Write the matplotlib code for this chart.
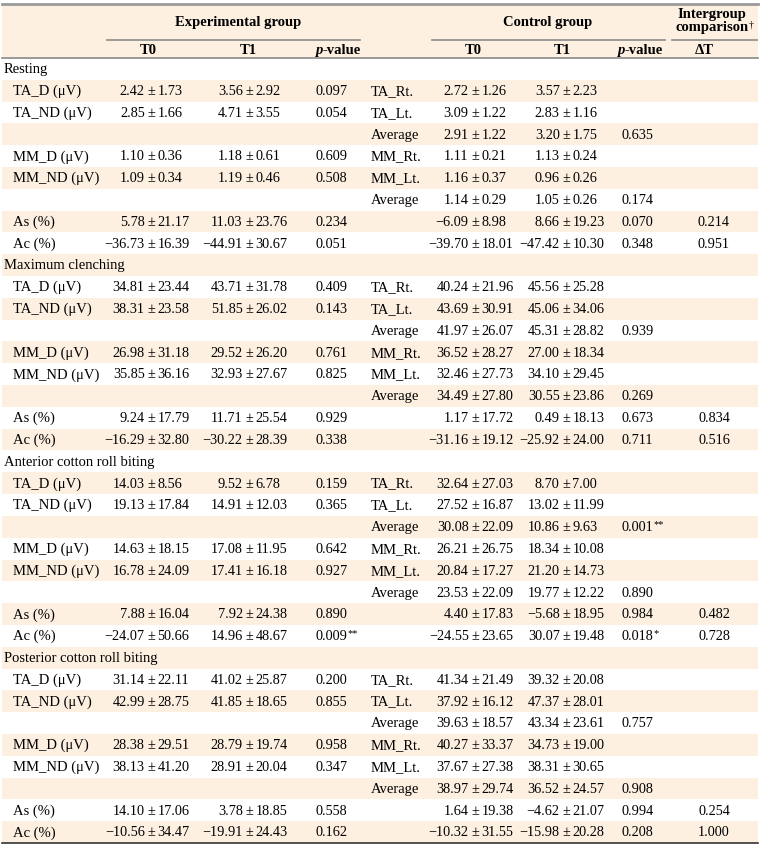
import matplotlib
matplotlib.use('Agg')
import matplotlib.pyplot as plt
from matplotlib.patches import Rectangle

plt.rcParams['font.family'] = ['Liberation Serif', 'DejaVu Serif']

# table content
sections = ['Resting', 'Maximum clenching', 'Anterior cotton roll biting',
            'Posterior cotton roll biting']
exp_labels = ['TA_D (\u03bcV)', 'TA_ND (\u03bcV)', 'MM_D (\u03bcV)', 'MM_ND (\u03bcV)',
              'As (%)', 'Ac (%)']
ctrl_labels = ['TA_Rt.', 'TA_Lt.', 'Average', 'MM_Rt.', 'MM_Lt.', 'Average', '', '']

# experimental group (TA_D, TA_ND, MM_D, MM_ND, As, Ac) per section
exp_t0_mean = [[2.42, 2.85, 1.10, 1.09, 5.78, -36.73],
               [34.81, 38.31, 26.98, 35.85, 9.24, -16.29],
               [14.03, 19.13, 14.63, 16.78, 7.88, -24.07],
               [31.14, 42.99, 28.38, 38.13, 14.10, -10.56]]
exp_t0_sd = [[1.73, 1.66, 0.36, 0.34, 21.17, 16.39],
             [23.44, 23.58, 31.18, 36.16, 17.79, 32.80],
             [8.56, 17.84, 18.15, 24.09, 16.04, 50.66],
             [22.11, 28.75, 29.51, 41.20, 17.06, 34.47]]
exp_t1_mean = [[3.56, 4.71, 1.18, 1.19, 11.03, -44.91],
               [43.71, 51.85, 29.52, 32.93, 11.71, -30.22],
               [9.52, 14.91, 17.08, 17.41, 7.92, 14.96],
               [41.02, 41.85, 28.79, 28.91, 3.78, -19.91]]
exp_t1_sd = [[2.92, 3.55, 0.61, 0.46, 23.76, 30.67],
             [31.78, 26.02, 26.20, 27.67, 25.54, 28.39],
             [6.78, 12.03, 11.95, 16.18, 24.38, 48.67],
             [25.87, 18.65, 19.74, 20.04, 18.85, 24.43]]
exp_p = [[0.097, 0.054, 0.609, 0.508, 0.234, 0.051],
         [0.409, 0.143, 0.761, 0.825, 0.929, 0.338],
         [0.159, 0.365, 0.642, 0.927, 0.890, 0.009],
         [0.200, 0.855, 0.958, 0.347, 0.558, 0.162]]

# control group (TA_Rt, TA_Lt, Average, MM_Rt, MM_Lt, Average, As, Ac) per section
ctrl_t0_mean = [[2.72, 3.09, 2.91, 1.11, 1.16, 1.14, -6.09, -39.70],
                [40.24, 43.69, 41.97, 36.52, 32.46, 34.49, 1.17, -31.16],
                [32.64, 27.52, 30.08, 26.21, 20.84, 23.53, 4.40, -24.55],
                [41.34, 37.92, 39.63, 40.27, 37.67, 38.97, 1.64, -10.32]]
ctrl_t0_sd = [[1.26, 1.22, 1.22, 0.21, 0.37, 0.29, 8.98, 18.01],
              [21.96, 30.91, 26.07, 28.27, 27.73, 27.80, 17.72, 19.12],
              [27.03, 16.87, 22.09, 26.75, 17.27, 22.09, 17.83, 23.65],
              [21.49, 16.12, 18.57, 33.37, 27.38, 29.74, 19.38, 31.55]]
ctrl_t1_mean = [[3.57, 2.83, 3.20, 1.13, 0.96, 1.05, 8.66, -47.42],
                [45.56, 45.06, 45.31, 27.00, 34.10, 30.55, 0.49, -25.92],
                [8.70, 13.02, 10.86, 18.34, 21.20, 19.77, -5.68, 30.07],
                [39.32, 47.37, 43.34, 34.73, 38.31, 36.52, -4.62, -15.98]]
ctrl_t1_sd = [[2.23, 1.16, 1.75, 0.24, 0.26, 0.26, 19.23, 10.30],
              [25.28, 34.06, 28.82, 18.34, 29.45, 23.86, 18.13, 24.00],
              [7.00, 11.99, 9.63, 10.08, 14.73, 12.22, 18.95, 19.48],
              [20.08, 28.01, 23.61, 19.00, 30.65, 24.57, 21.07, 20.28]]
# control p-values for (Average TA, Average MM, As, Ac)
ctrl_p = [[0.635, 0.174, 0.070, 0.348],
          [0.939, 0.269, 0.673, 0.711],
          [0.001, 0.890, 0.984, 0.018],
          [0.757, 0.908, 0.994, 0.208]]
# intergroup comparison (As, Ac)
delta_p = [[0.214, 0.951],
           [0.834, 0.516],
           [0.482, 0.728],
           [0.254, 1.000]]

exp_slots = [0, 1, 3, 4, 6, 7]
ctrl_p_slots = [2, 5, 6, 7]
delta_slots = [6, 7]

# layout in pixels
W, H = 760, 846
top_y, head_y, bot_y = 4, 58, 843
row_h = (bot_y - head_y) / 36
beige = '#fdf0e1'
fs_lab = 10.5
fs_num = 10.3
base_off = 4.3          # baseline below row centre

x_sec, x_lab, x_ctrl_lab = 4, 13, 371
x_e0, x_e1, x_ep = 151, 249, 315      # x of the "±" sign / p-value left edge
x_c0, x_c1, x_cp = 475, 566, 621
x_dt = 714


def num(v):
    return f'{v:.2f}'.replace('-', '\u2212')


def stars(p):
    if p < 0.01:
        return '**'
    if p < 0.05:
        return '*'
    return ''


fig = plt.figure(figsize=(W / 100, H / 100), dpi=100)
ax = fig.add_axes([0, 0, 1, 1])
ax.set_xlim(0, W)
ax.set_ylim(H, 0)
ax.axis('off')


def row_y(i):
    return head_y + row_h * (i + 0.5) + base_off


def put(x, y, s, ha='left', fs=fs_num, **kw):
    return ax.text(x, y, s, ha=ha, va='baseline', fontsize=fs, **kw)


def put_pm(x, y, m, s):
    put(x - 6.3, y, num(m), ha='right')
    put(x, y, '\u00b1', ha='center')
    put(x + 6.3, y, num(s), ha='left')


def put_p(x, y, p):
    t = put(x, y, f'{p:.3f}')
    st = stars(p)
    if st:
        ax.annotate(st, xy=(1, 1), xycoords=t, xytext=(0.6, 0.5),
                    textcoords='offset points', ha='left', va='top', fontsize=7.5)


# header background and stripes
ax.add_patch(Rectangle((2, top_y), W - 4, head_y - top_y, color=beige, lw=0))
for i in range(36):
    if i % 2 == 1:
        ax.add_patch(Rectangle((2, head_y + row_h * i), W - 4, row_h,
                               color=beige, lw=0))

# rules
ax.plot([2, W - 2], [top_y, top_y], color='#9a9a9a', lw=2.0)
ax.plot([2, W - 2], [head_y, head_y], color='#8a8a8a', lw=1.2)
ax.plot([2, W - 2], [bot_y, bot_y], color='#333333', lw=1.2)
for x0, x1 in [(107, 360), (432, 665), (672, 757)]:
    ax.plot([x0, x1], [40, 40], color='#8a8a8a', lw=1.2)

# header text
hb = dict(fontsize=fs_lab, fontweight='bold', va='baseline')
ax.text(238, 26, 'Experimental group', ha='center', **hb)
ax.text(548, 26, 'Control group', ha='center', **hb)
ax.text(712, 18, 'Intergroup', ha='center', **hb)
cmp_t = ax.text(712, 31, 'comparison', ha='center', **hb)
ax.annotate('\u2020', xy=(1, 1), xycoords=cmp_t, xytext=(0.4, 0.5),
            textcoords='offset points', ha='left', va='top', fontsize=7)
for x, s in [(148, 'T0'), (248, 'T1'), (473, 'T0'), (562, 'T1'), (704, '\u0394T')]:
    ax.text(x, 54, s, ha='center', **hb)
for x in [338, 640]:
    ax.text(x - 15.5, 54, 'p', ha='right', style='italic', **hb)
    ax.text(x - 15.5, 54, '-value', ha='left', **hb)

# body
for s, name in enumerate(sections):
    base = s * 9
    put(x_sec, row_y(base), name, fs=fs_lab)
    for k, slot in enumerate(exp_slots):
        y = row_y(base + 1 + slot)
        put(x_lab, y, exp_labels[k], fs=fs_lab)
        put_pm(x_e0, y, exp_t0_mean[s][k], exp_t0_sd[s][k])
        put_pm(x_e1, y, exp_t1_mean[s][k], exp_t1_sd[s][k])
        put_p(x_ep, y, exp_p[s][k])
    for k in range(8):
        y = row_y(base + 1 + k)
        if ctrl_labels[k]:
            put(x_ctrl_lab, y, ctrl_labels[k], fs=fs_lab)
        put_pm(x_c0, y, ctrl_t0_mean[s][k], ctrl_t0_sd[s][k])
        put_pm(x_c1, y, ctrl_t1_mean[s][k], ctrl_t1_sd[s][k])
    for k, slot in enumerate(ctrl_p_slots):
        put_p(x_cp, row_y(base + 1 + slot), ctrl_p[s][k])
    for k, slot in enumerate(delta_slots):
        put(x_dt, row_y(base + 1 + slot), f'{delta_p[s][k]:.3f}', ha='center')

fig.savefig('out.png', dpi=100)
